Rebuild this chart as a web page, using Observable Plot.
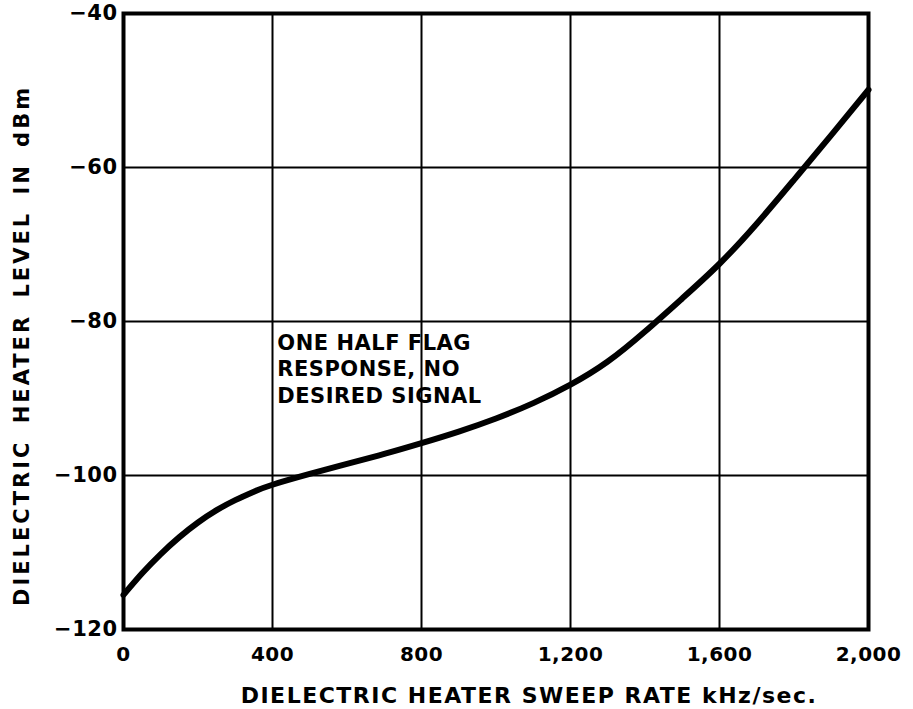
<!DOCTYPE html>
<html>
<head>
<meta charset="utf-8">
<script src="https://cdn.jsdelivr.net/npm/d3@7"></script>
<script src="https://cdn.jsdelivr.net/npm/@observablehq/plot@0.6"></script>
<style>
  html, body { margin: 0; padding: 0; background: #fff; }
  #chart text { letter-spacing: 0.5px; }
  #chart .xlab text { letter-spacing: 1.5px; }
  #chart .ylab text { letter-spacing: 3px; word-spacing: 6px; }
</style>
</head>
<body>
<div id="chart"></div>
<script>
const sweepRate = [0, 50, 100, 150, 200, 250, 300, 350, 400, 500, 600, 700, 800, 900, 1000, 1100, 1200, 1300, 1400, 1500, 1600, 1700, 1800, 1900, 2000];
const heaterLevel = [-115.5, -112.7, -110.2, -108.0, -106.1, -104.5, -103.2, -102.1, -101.2, -99.8, -98.5, -97.2, -95.8, -94.3, -92.6, -90.6, -88.2, -85.2, -81.3, -77.0, -72.5, -67.3, -61.6, -55.8, -49.9];
const xTicks = [0, 400, 800, 1200, 1600, 2000];
const yTicks = [-120, -100, -80, -60, -40];
const xLabel = "DIELECTRIC HEATER SWEEP RATE kHz/sec.";
const yLabel = "DIELECTRIC HEATER LEVEL IN dBm";
const noteText = "ONE HALF FLAG\nRESPONSE, NO\nDESIRED SIGNAL";
const noteX = [413];
const noteY = [-81.3];

const data = sweepRate.map((x, i) => ({x, y: heaterLevel[i]}));

const chart = Plot.plot({
  width: 913,
  height: 709,
  marginLeft: 123,
  marginRight: 45,
  marginTop: 13,
  marginBottom: 80,
  style: {fontFamily: "'DejaVu Sans', sans-serif", fontWeight: "bold", color: "#000", background: "#fff"},
  x: {domain: [0, 2000]},
  y: {domain: [-120, -40]},
  marks: [
    Plot.gridX(xTicks, {stroke: "#000", strokeOpacity: 1, strokeWidth: 2}),
    Plot.gridY(yTicks, {stroke: "#000", strokeOpacity: 1, strokeWidth: 2}),
    Plot.frame({stroke: "#000", strokeWidth: 4}),
    Plot.axisX({ticks: xTicks, tickSize: 0, tickPadding: 17, fontSize: 20, label: null, tickFormat: d3.format(",")}),
    Plot.axisY({ticks: yTicks, tickSize: 0, tickPadding: 6, fontSize: 21, label: null}),
    Plot.line(data, {x: "x", y: "y", curve: "natural", stroke: "#000", strokeWidth: 6}),
    Plot.text([noteText], {x: noteX, y: noteY, text: d => d, textAnchor: "start", lineAnchor: "top", fontSize: 21, lineHeight: 1.25, fill: "#000"}),
    Plot.text([xLabel], {frameAnchor: "bottom", textAnchor: "middle", lineAnchor: "middle", dx: 33, dy: 66, fontSize: 22, fill: "#000", className: "xlab"}),
    Plot.text([yLabel], {frameAnchor: "left", textAnchor: "middle", lineAnchor: "middle", dx: -101, dy: 24, rotate: -90, fontSize: 21, fill: "#000", className: "ylab"})
  ]
});
document.getElementById("chart").appendChild(chart);
</script>
</body>
</html>
